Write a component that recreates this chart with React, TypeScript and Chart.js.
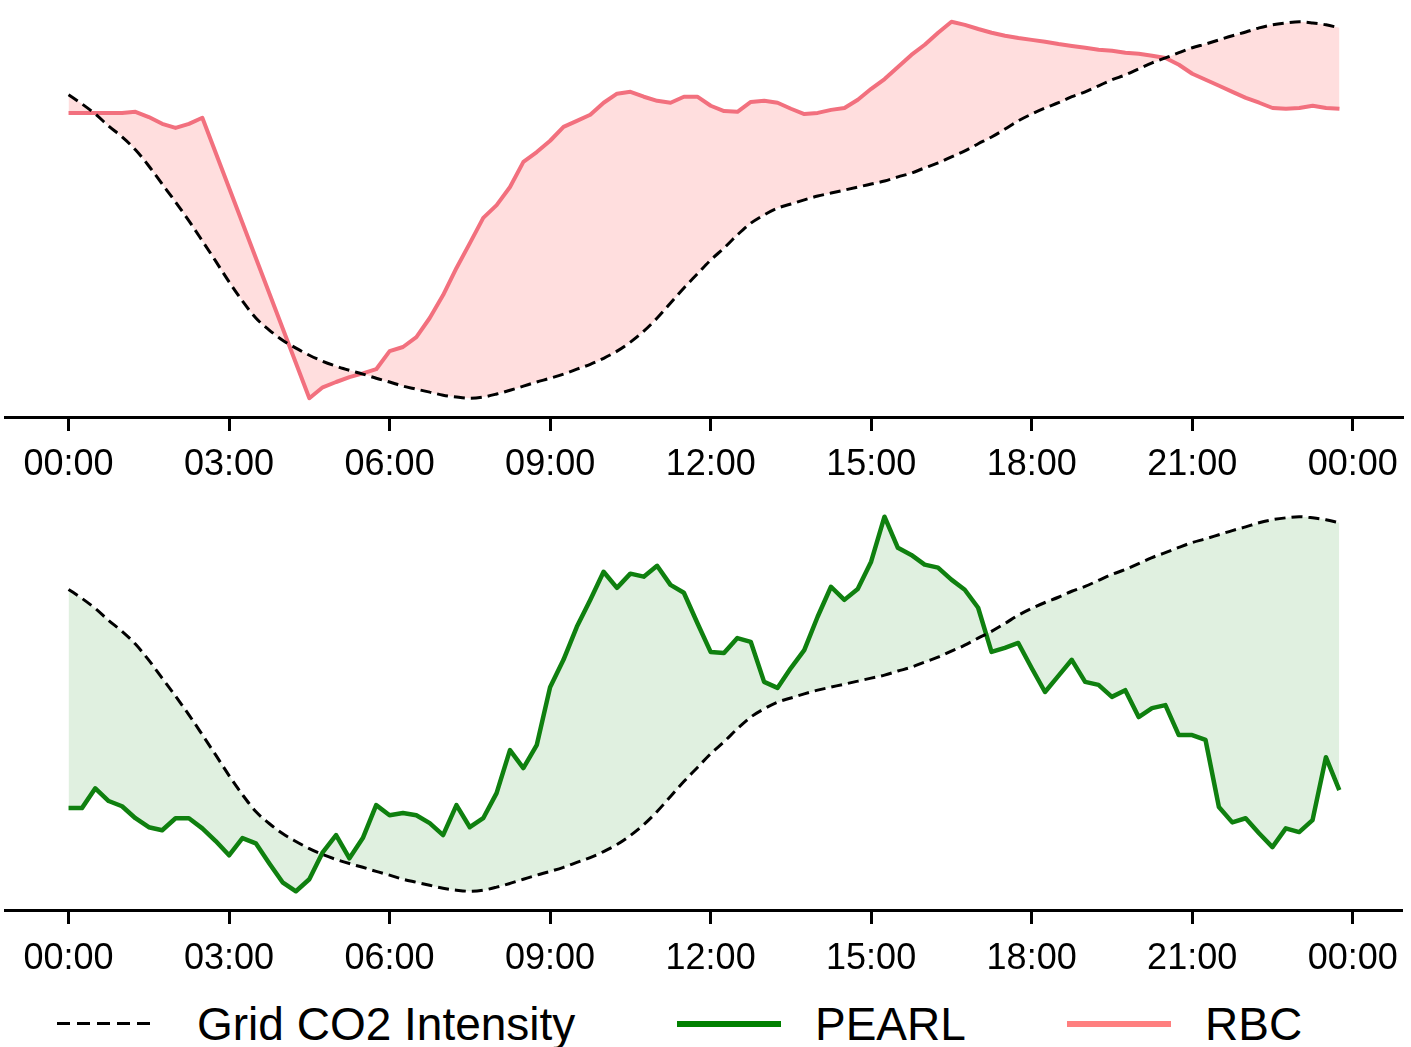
import React, { useEffect, useRef } from "react";
import { Chart, registerables } from "chart.js";

Chart.register(...registerables);

// 15-minute slots over one day (hours)
const SLOT_HOURS = Array.from({ length: 96 }, (_, i) => i * 0.25);

const TICK_HOURS = [0, 3, 6, 9, 12, 15, 18, 21, 24];
const TICK_LABELS = ["00:00", "03:00", "06:00", "09:00", "12:00", "15:00", "18:00", "21:00", "00:00"];

// Normalised grid CO2 intensity
const CO2 = [
  0.806, 0.782, 0.755, 0.723, 0.694, 0.66, 0.617, 0.569, 0.521, 0.471, 0.418, 0.364,
  0.309, 0.258, 0.213, 0.181, 0.154, 0.133, 0.114, 0.098, 0.085, 0.074, 0.064, 0.053,
  0.043, 0.032, 0.024, 0.016, 0.008, 0.003, 0.0, 0.003, 0.011, 0.021, 0.032, 0.043,
  0.053, 0.064, 0.077, 0.09, 0.106, 0.125, 0.149, 0.178, 0.213, 0.253, 0.293, 0.33,
  0.367, 0.399, 0.434, 0.465, 0.487, 0.505, 0.516, 0.527, 0.537, 0.545, 0.553, 0.561,
  0.569, 0.577, 0.588, 0.598, 0.612, 0.625, 0.641, 0.657, 0.676, 0.694, 0.715, 0.737,
  0.755, 0.771, 0.785, 0.801, 0.814, 0.83, 0.846, 0.859, 0.875, 0.891, 0.904, 0.918,
  0.931, 0.941, 0.952, 0.963, 0.973, 0.984, 0.992, 0.997, 1.0, 0.997, 0.992, 0.984,
];

// Normalised RBC consumption (null = no sample, line spans the gap)
const RBC = [
  0.758, 0.758, 0.758, 0.758, 0.758, 0.761, 0.747, 0.729, 0.718, 0.729, 0.745, null,
  null, null, null, null, null, null, 0.0, 0.029, 0.043, 0.056, 0.066, 0.077,
  0.125, 0.136, 0.162, 0.213, 0.274, 0.346, 0.412, 0.479, 0.513, 0.561, 0.628, 0.654,
  0.684, 0.721, 0.737, 0.753, 0.785, 0.809, 0.814, 0.801, 0.79, 0.785, 0.801, 0.801,
  0.777, 0.763, 0.761, 0.787, 0.79, 0.785, 0.769, 0.755, 0.758, 0.766, 0.771, 0.793,
  0.822, 0.848, 0.88, 0.912, 0.939, 0.971, 1.0, 0.992, 0.981, 0.971, 0.963, 0.957,
  0.952, 0.947, 0.941, 0.936, 0.931, 0.926, 0.923, 0.918, 0.915, 0.91, 0.904, 0.886,
  0.862, 0.846, 0.83, 0.814, 0.798, 0.785, 0.771, 0.769, 0.771, 0.777, 0.771, 0.769,
];

// Normalised PEARL consumption
const PEARL = [
  0.222, 0.222, 0.275, 0.241, 0.227, 0.195, 0.171, 0.163, 0.195, 0.195, 0.168, 0.134,
  0.096, 0.142, 0.128, 0.075, 0.024, 0.0, 0.032, 0.104, 0.15, 0.088, 0.142, 0.23,
  0.203, 0.209, 0.203, 0.182, 0.15, 0.23, 0.171, 0.195, 0.262, 0.377, 0.329, 0.39,
  0.545, 0.618, 0.706, 0.778, 0.853, 0.81, 0.848, 0.84, 0.869, 0.818, 0.797, 0.717,
  0.639, 0.636, 0.676, 0.666, 0.559, 0.543, 0.596, 0.644, 0.733, 0.813, 0.778, 0.807,
  0.88, 1.0, 0.917, 0.898, 0.872, 0.864, 0.832, 0.805, 0.757, 0.639, 0.65, 0.663,
  0.596, 0.532, 0.575, 0.618, 0.559, 0.551, 0.519, 0.537, 0.465, 0.489, 0.497, 0.417,
  0.417, 0.404, 0.225, 0.184, 0.195, 0.155, 0.118, 0.168, 0.158, 0.19, 0.358, 0.27,
];

const FONT = "'Liberation Sans', Arial, Helvetica, sans-serif";
const CO2_LABEL = "Grid CO2 Intensity";
const PEARL_LABEL = "PEARL";
const RBC_LABEL = "RBC";
const PEARL_COLOR = "#0f800f";
const PEARL_FILL = "rgba(0,128,0,0.12)";
const RBC_COLOR = "#f2707e";
const RBC_FILL = "rgba(255,128,128,0.26)";

const toPoints = (vals: (number | null)[]) =>
  vals.map((v, i) => ({ x: SLOT_HOURS[i], y: v }));

function makeConfig(
  values: (number | null)[],
  label: string,
  color: string,
  fill: string,
  lineW: number,
  padTop: number,
  axisH: number,
  tickPad: number
): any {
  return {
    type: "line",
    data: {
      datasets: [
        {
          label: CO2_LABEL,
          data: toPoints(CO2),
          borderColor: "#000",
          borderWidth: 3,
          borderDash: [11, 6],
          pointRadius: 0,
          fill: false,
          cubicInterpolationMode: "monotone",
        },
        {
          label,
          data: toPoints(values),
          borderColor: color,
          borderWidth: lineW,
          pointRadius: 0,
          spanGaps: true,
          tension: 0,
          borderJoinStyle: "round",
          fill: "-1",
          backgroundColor: fill,
        },
      ],
    },
    options: {
      animation: false,
      responsive: false,
      devicePixelRatio: 1,
      events: [],
      layout: { padding: { left: 5, right: 8, top: padTop, bottom: 0 } },
      plugins: { legend: { display: false }, tooltip: { enabled: false } },
      scales: {
        x: {
          type: "linear",
          min: -1.1875,
          max: 24.9375,
          afterBuildTicks: (s: any) => {
            s.ticks = TICK_HOURS.map((v) => ({ value: v }));
          },
          afterFit: (s: any) => {
            s.height = axisH;
          },
          ticks: {
            autoSkip: false,
            maxRotation: 0,
            minRotation: 0,
            padding: tickPad,
            color: "#000",
            font: { family: FONT, size: 36 },
            callback: (v: number) => TICK_LABELS[TICK_HOURS.indexOf(v)],
          },
          grid: {
            display: true,
            drawOnChartArea: false,
            drawTicks: true,
            tickLength: 14,
            tickWidth: 3,
            tickColor: "#000",
          },
          border: { display: true, color: "#000", width: 3 },
        },
        y: { display: false, min: -0.05, max: 1.05 },
      },
    },
  };
}

function Panel(props: {
  top: number;
  height: number;
  values: (number | null)[];
  label: string;
  color: string;
  fill: string;
  lineW: number;
  padTop: number;
  axisH: number;
  tickPad: number;
}) {
  const ref = useRef<HTMLCanvasElement | null>(null);
  useEffect(() => {
    if (!ref.current) return;
    const chart = new Chart(
      ref.current,
      makeConfig(
        props.values,
        props.label,
        props.color,
        props.fill,
        props.lineW,
        props.padTop,
        props.axisH,
        props.tickPad
      )
    );
    return () => chart.destroy();
  }, []);
  return (
    <canvas
      ref={ref}
      width={1411}
      height={props.height}
      style={{ position: "absolute", left: 0, top: props.top, width: 1411, height: props.height }}
    />
  );
}

function LegendItem(props: { x: number; textX: number; label: string; color: string; dashed?: boolean; width: number }) {
  const lineStyle: React.CSSProperties = props.dashed
    ? {
        position: "absolute",
        left: props.x,
        top: 1022,
        width: 100,
        height: 3,
        backgroundImage: "repeating-linear-gradient(to right, #000 0, #000 13px, transparent 13px, transparent 20px)",
      }
    : {
        position: "absolute",
        left: props.x,
        top: 1021,
        width: 104,
        height: props.width,
        background: props.color,
      };
  return (
    <>
      <div style={lineStyle} />
      <span
        style={{
          position: "absolute",
          left: props.textX,
          top: 1001,
          fontFamily: FONT,
          fontSize: 46,
          lineHeight: "46px",
          color: "#000",
          whiteSpace: "nowrap",
        }}
      >
        {props.label}
      </span>
    </>
  );
}

export default function App() {
  return (
    <div
      style={{
        position: "absolute",
        left: 0,
        top: 0,
        width: 1411,
        height: 1047,
        overflow: "hidden",
        background: "#fff",
      }}
    >
      <Panel
        top={0}
        height={490}
        values={RBC}
        label={RBC_LABEL}
        color={RBC_COLOR}
        fill={RBC_FILL}
        lineW={4}
        padTop={3}
        axisH={73}
        tickPad={12}
      />
      <Panel
        top={490}
        height={500}
        values={PEARL}
        label={PEARL_LABEL}
        color={PEARL_COLOR}
        fill={PEARL_FILL}
        lineW={4.5}
        padTop={8}
        axisH={80}
        tickPad={13}
      />
      <LegendItem x={57} textX={197} label={CO2_LABEL} color="#000" dashed width={3} />
      <LegendItem x={677} textX={815} label={PEARL_LABEL} color="#008000" width={6} />
      <LegendItem x={1067} textX={1205} label={RBC_LABEL} color="#ff7f7f" width={6} />
    </div>
  );
}
